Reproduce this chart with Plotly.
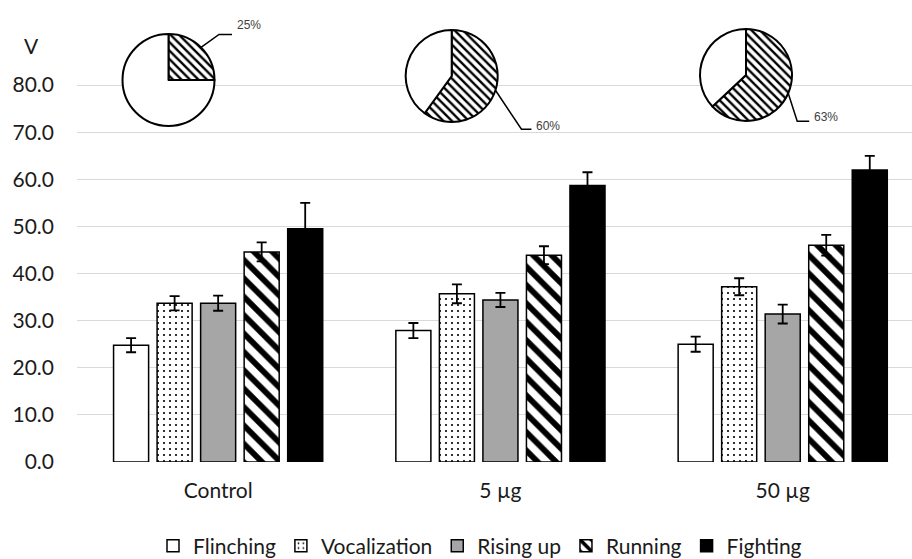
import math
import plotly.graph_objects as go

# ---- data -------------------------------------------------------------
groups = ["Control", "5 µg", "50 µg"]

flinching = [24.8, 27.9, 25.0]
flinching_err = [1.5, 1.6, 1.6]
vocalization = [33.7, 35.7, 37.2]
vocalization_err = [1.5, 2.0, 1.8]
rising_up = [33.7, 34.4, 31.4]
rising_up_err = [1.6, 1.5, 2.0]
running = [44.6, 43.9, 46.0]
running_err = [2.0, 1.9, 2.2]
fighting = [49.5, 58.7, 62.0]
fighting_err = [5.5, 2.8, 3.0]

# share (%) shown in the small pie above each group
pie_share = [25, 60, 63]

y_ticks = [0, 10, 20, 30, 40, 50, 60, 70, 80, 90]
y_tick_labels = ["0.0", "10.0", "20.0", "30.0", "40.0", "50.0", "60.0", "70.0", "80.0", ""]

# ---- page geometry ----------------------------------------------------
W, H = 912, 559
M_L, M_R, M_T, M_B = 77, 0, 0, 97
PLOT_W = W - M_L - M_R
PLOT_H = H - M_T - M_B
AXIS_TOP_PX = 38          # pixel row of the top gridline


def px_x(px):
    return (px - M_L) / PLOT_W


def px_y(py):
    return (H - M_B - py) / PLOT_H


TEXT_FONT = dict(family="Lato, Liberation Sans, sans-serif", size=21, color="#1a1a1a")

fig = go.Figure()

series = [
    ("Flinching", flinching, flinching_err, dict(color="white")),
    ("Vocalization", vocalization, vocalization_err,
     dict(color="white", pattern=dict(shape=".", fgcolor="black", bgcolor="white",
                                      size=6, solidity=0.1, fillmode="replace"))),
    ("Rising up", rising_up, rising_up_err, dict(color="#a6a6a6")),
    ("Running", running, running_err,
     dict(color="white", pattern=dict(shape="\\", fgcolor="black", bgcolor="white",
                                      size=13, solidity=0.45, fillmode="replace"))),
    ("Fighting", fighting, fighting_err, dict(color="black")),
]

for name, vals, errs, mk in series:
    mk = dict(mk)
    mk["line"] = dict(color="black", width=1.5)
    fig.add_trace(go.Bar(
        name=name, x=groups, y=vals,
        error_y=dict(type="data", array=errs, visible=True,
                     color="black", thickness=1.8, width=5),
        marker=mk,
    ))

# ---- pies above the groups -------------------------------------------
pie_centers = [(168.5, 80.0), (451.7, 76.0), (746.0, 75.0)]
pie_radius = 46.0
leader_offsets = [(18, -13), (26, 39), (9, 28)]
leader_tail = [13, 10, 12]
label_lift = [9, 3, 4]

shapes = []
annotations = []
for share, (cx, cy), (ox, oy), tail, lift in zip(pie_share, pie_centers,
                                                 leader_offsets, leader_tail, label_lift):
    fig.add_trace(go.Pie(
        values=[share, 100 - share],
        sort=False, direction="clockwise", rotation=0,
        textinfo="none", hoverinfo="skip", showlegend=False,
        marker=dict(colors=["white", "white"],
                    line=dict(color="black", width=2),
                    pattern=dict(shape=["\\", ""], fgcolor="black", bgcolor="white",
                                 size=6, solidity=0.4, fillmode="replace")),
        domain=dict(x=[px_x(cx - pie_radius), px_x(cx + pie_radius)],
                    y=[px_y(cy + pie_radius), px_y(cy - pie_radius)]),
    ))
    # leader line from the middle of the shaded slice to its label
    theta = math.radians(share / 100 * 360 / 2)
    ex = cx + pie_radius * math.sin(theta)
    ey = cy - pie_radius * math.cos(theta)
    bx, by = ex + ox, ey + oy
    tx = bx + tail
    shapes.append(dict(
        type="path", xref="paper", yref="paper",
        path=f"M {px_x(ex)} {px_y(ey)} L {px_x(bx)} {px_y(by)} L {px_x(tx)} {px_y(by)}",
        line=dict(color="black", width=1.5),
    ))
    annotations.append(dict(
        text=f"{share}%", xref="paper", yref="paper",
        x=px_x(tx + 3), y=px_y(by - lift), xanchor="left", yanchor="middle",
        showarrow=False,
        font=dict(family="Liberation Sans, Arial, sans-serif", size=12, color="#404040"),
    ))

annotations.append(dict(
    text="V", xref="paper", yref="paper", x=px_x(31), y=px_y(46),
    xanchor="center", yanchor="middle", showarrow=False, font=TEXT_FONT,
))

fig.update_layout(
    width=W, height=H,
    margin=dict(l=M_L, r=M_R, t=M_T, b=M_B),
    paper_bgcolor="white", plot_bgcolor="white",
    barmode="group", bargap=0.229, bargroupgap=0.195,
    font=TEXT_FONT,
    shapes=shapes, annotations=annotations,
    legend=dict(orientation="h", xref="container", yref="container",
                x=480 / W, xanchor="center",
                y=(H - 546) / H, yanchor="middle", font=TEXT_FONT,
                itemwidth=30, bgcolor="rgba(0,0,0,0)"),
    xaxis=dict(range=[-0.5, 2.458], showgrid=False, zeroline=False,
               showline=False, ticks="", tickfont=TEXT_FONT, ticklabelstandoff=14),
    yaxis=dict(range=[0, 90], domain=[0, (H - M_B - AXIS_TOP_PX) / PLOT_H],
               tickvals=y_ticks, ticktext=y_tick_labels,
               showgrid=True, gridcolor="#d9d9d9", gridwidth=1.3,
               zeroline=False, showline=False, ticks="",
               tickfont=TEXT_FONT, ticklabelstandoff=22),
)

fig.write_html("out.html")
